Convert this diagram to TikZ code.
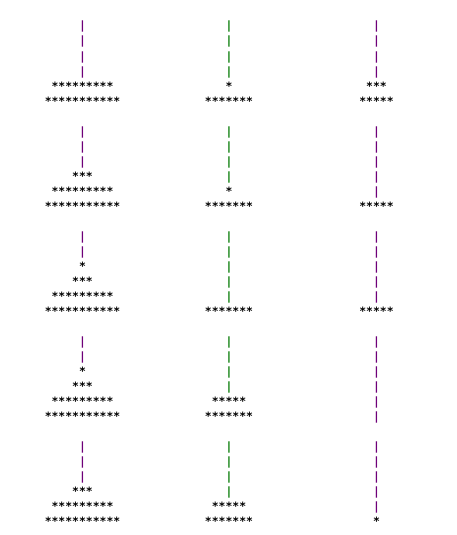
\documentclass[tikz,border=0pt]{standalone}
\usepackage{fontspec}
\newfontfamily\hanoimono{DejaVu Sans Mono}
\definecolor{pegpurple}{RGB}{110,0,120}
\definecolor{peggreen}{RGB}{0,120,0}
\tikzset{
  row/.style={anchor=base, inner sep=0pt, font=\hanoimono\bfseries\fontsize{11.4}{15}\selectfont},
  peg/.style={row, text=#1},
}
\newcommand\drawpegs[5]{%
  \foreach \j in {1,...,#5}
    \node[peg=#4] (#1p\j) at (#2, {30+105*#3+15*(\j-1)}) {|};}
\newcommand\drawdisks[5]{%
  \foreach \disk [count=\k] in {#5}
    \node[row] (#1d\k) at (#2, {30+105*#3+15*(#4+\k-1)}) {\disk};}
\begin{document}
\begin{tikzpicture}[x=1pt,y=-1pt]
  \useasboundingbox (0,0) rectangle (457,535);
  % move 0
  \drawpegs{l0}{82.5}{0}{pegpurple}{4}
  \drawdisks{l0}{82.5}{0}{4}{*********,***********}
  \drawpegs{m0}{229}{0}{peggreen}{4}
  \drawdisks{m0}{229}{0}{4}{*,*******}
  \drawpegs{r0}{376.5}{0}{pegpurple}{4}
  \drawdisks{r0}{376.5}{0}{4}{***,*****}
  % move 1
  \drawpegs{l1}{82.5}{1}{pegpurple}{3}
  \drawdisks{l1}{82.5}{1}{3}{***,*********,***********}
  \drawpegs{m1}{229}{1}{peggreen}{4}
  \drawdisks{m1}{229}{1}{4}{*,*******}
  \drawpegs{r1}{376.5}{1}{pegpurple}{5}
  \drawdisks{r1}{376.5}{1}{5}{*****}
  % move 2
  \drawpegs{l2}{82.5}{2}{pegpurple}{2}
  \drawdisks{l2}{82.5}{2}{2}{*,***,*********,***********}
  \drawpegs{m2}{229}{2}{peggreen}{5}
  \drawdisks{m2}{229}{2}{5}{*******}
  \drawpegs{r2}{376.5}{2}{pegpurple}{5}
  \drawdisks{r2}{376.5}{2}{5}{*****}
  % move 3
  \drawpegs{l3}{82.5}{3}{pegpurple}{2}
  \drawdisks{l3}{82.5}{3}{2}{*,***,*********,***********}
  \drawpegs{m3}{229}{3}{peggreen}{4}
  \drawdisks{m3}{229}{3}{4}{*****,*******}
  \drawpegs{r3}{376.5}{3}{pegpurple}{6}
  % move 4
  \drawpegs{l4}{82.5}{4}{pegpurple}{3}
  \drawdisks{l4}{82.5}{4}{3}{***,*********,***********}
  \drawpegs{m4}{229}{4}{peggreen}{4}
  \drawdisks{m4}{229}{4}{4}{*****,*******}
  \drawpegs{r4}{376.5}{4}{pegpurple}{5}
  \drawdisks{r4}{376.5}{4}{5}{*}
\end{tikzpicture}
\end{document}
